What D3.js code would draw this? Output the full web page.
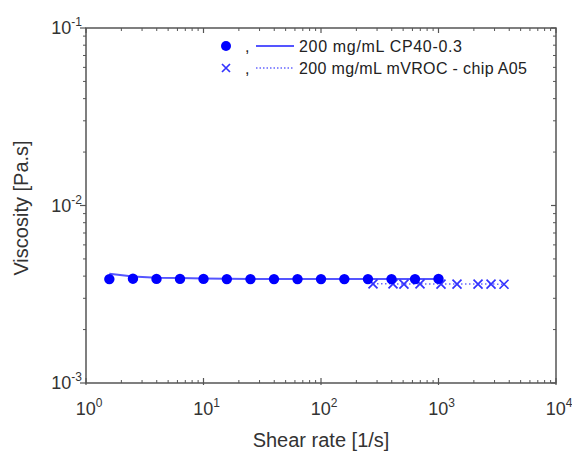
<!DOCTYPE html>
<html><head><meta charset="utf-8">
<script src="https://cdn.jsdelivr.net/npm/d3@7"></script>
<style>body{margin:0;background:#fff}svg{display:block}text{font-family:"Liberation Sans",Arial,sans-serif}</style>
</head><body><svg id="c" width="572" height="455"></svg>
<script>
const cpShear = [1.58,2.51,3.98,6.31,10,15.8,25.1,39.8,63.1,100,158,251,398,631,1000];
const cpVisc  = [0.00385,0.00387,0.00386,0.00386,0.00386,0.00385,0.00385,0.00385,0.00385,0.00385,0.00385,0.00385,0.00385,0.00385,0.00386];
const cpLine  = [0.00412,0.00398,0.00392,0.00390,0.00388,0.00387,0.00386,0.00386,0.00385,0.00385,0.00385,0.00385,0.00385,0.00385,0.00386];
const mvShear = [277,410,508,696,1050,1437,2170,2800,3610];
const mvVisc  = [0.00362,0.00362,0.00361,0.00362,0.00361,0.00361,0.00361,0.00361,0.00360];
const xTicks = [1,10,100,1000,10000];
const yTicks = [0.001,0.01,0.1];
const legendLabels = ["200 mg/mL CP40-0.3","200 mg/mL mVROC - chip A05"];

const svg = d3.select("#c");
const L=86,R=556,T=28,B=383;
const x = d3.scaleLog().domain([1,1e4]).range([L,R]);
const y = d3.scaleLog().domain([1e-3,1e-1]).range([B,T]);
const axisCol="#555";

const minors=(lo,hi)=>{const a=[];for(let d=lo;d<hi;d*=10)for(let k=2;k<=9;k++)a.push(d*k);return a;};
const g=svg.append("g");
g.append("rect").attr("x",L).attr("y",T).attr("width",R-L).attr("height",B-T).attr("fill","none").attr("stroke",axisCol).attr("stroke-width",1.5);
minors(1,1e4).forEach(v=>{g.append("line").attr("x1",x(v)).attr("x2",x(v)).attr("y1",B).attr("y2",B-3).attr("stroke",axisCol);
 g.append("line").attr("x1",x(v)).attr("x2",x(v)).attr("y1",T).attr("y2",T+3).attr("stroke",axisCol);});
xTicks.forEach(v=>{g.append("line").attr("x1",x(v)).attr("x2",x(v)).attr("y1",B+2).attr("y2",B-5).attr("stroke",axisCol).attr("stroke-width",1.2);
 g.append("line").attr("x1",x(v)).attr("x2",x(v)).attr("y1",T).attr("y2",T+5).attr("stroke",axisCol).attr("stroke-width",1.2);});
minors(1e-3,1e-1).forEach(v=>{g.append("line").attr("x1",L).attr("x2",L-3).attr("y1",y(v)).attr("y2",y(v)).attr("stroke",axisCol);
 g.append("line").attr("x1",R).attr("x2",R-3).attr("y1",y(v)).attr("y2",y(v)).attr("stroke",axisCol);});
yTicks.forEach(v=>{g.append("line").attr("x1",L).attr("x2",L-6).attr("y1",y(v)).attr("y2",y(v)).attr("stroke",axisCol).attr("stroke-width",1.2);
 g.append("line").attr("x1",R).attr("x2",R-5).attr("y1",y(v)).attr("y2",y(v)).attr("stroke",axisCol).attr("stroke-width",1.2);});

const pow=v=>Math.round(Math.log10(v));
xTicks.forEach(v=>{const t=g.append("text").attr("x",x(v)+3).attr("y",415).attr("text-anchor","middle").attr("font-size",18).attr("fill","#333");
 t.append("tspan").text("10"); t.append("tspan").attr("dy",-8).attr("font-size",12).text(pow(v));});
yTicks.forEach(v=>{const t=g.append("text").attr("x",82).attr("y",y(v)+6).attr("text-anchor","end").attr("font-size",18).attr("fill","#333");
 t.append("tspan").text("10"); t.append("tspan").attr("dy",-8).attr("font-size",12).text(pow(v));});

svg.append("text").attr("x",321).attr("y",447).attr("text-anchor","middle").attr("font-size",20).attr("fill","#333").text("Shear rate [1/s]");
svg.append("text").attr("transform","translate(28,208) rotate(-90)").attr("text-anchor","middle").attr("font-size",20).attr("fill","#333").text("Viscosity [Pa.s]");

const blue="#0000ff";
const line=d3.line().x(d=>x(d[0])).y(d=>y(d[1]));
svg.append("path").attr("d",line(cpShear.map((s,i)=>[s,cpLine[i]]))).attr("fill","none").attr("stroke","#5555ff").attr("stroke-width",2);
svg.append("path").attr("d",line(mvShear.map((s,i)=>[s,mvVisc[i]]))).attr("fill","none").attr("stroke","#6666ff").attr("stroke-width",1.5).attr("stroke-dasharray","1.5,2.5");
const cross=(gg,cx,cy,s,col)=>{gg.append("path").attr("d",`M${cx-s},${cy-s}L${cx+s},${cy+s}M${cx-s},${cy+s}L${cx+s},${cy-s}`).attr("stroke",col).attr("stroke-width",1.7).attr("fill","none");};
const mk=svg.append("g");
mvShear.forEach((s,i)=>cross(mk,x(s),y(mvVisc[i]),4.5,"#3333ff"));
cpShear.forEach((s,i)=>mk.append("circle").attr("cx",x(s)).attr("cy",y(cpVisc[i])).attr("r",5.2).attr("fill",blue));

const lg=svg.append("g").attr("font-size",16).attr("fill","#222");
lg.append("circle").attr("cx",226).attr("cy",46).attr("r",5).attr("fill",blue);
cross(lg,226,68,4,"#3333ff");
lg.append("text").attr("x",245).attr("y",52).text(",");
lg.append("text").attr("x",245).attr("y",74).text(",");
lg.append("line").attr("x1",256).attr("x2",294).attr("y1",46).attr("y2",46).attr("stroke","#5555ff").attr("stroke-width",2);
lg.append("line").attr("x1",256).attr("x2",294).attr("y1",68).attr("y2",68).attr("stroke","#6666ff").attr("stroke-width",1.5).attr("stroke-dasharray","1.5,2");
lg.append("text").attr("x",299).attr("y",52).attr("textLength",163).text(legendLabels[0]);
lg.append("text").attr("x",299).attr("y",74).attr("textLength",228).text(legendLabels[1]);
</script></body></html>
